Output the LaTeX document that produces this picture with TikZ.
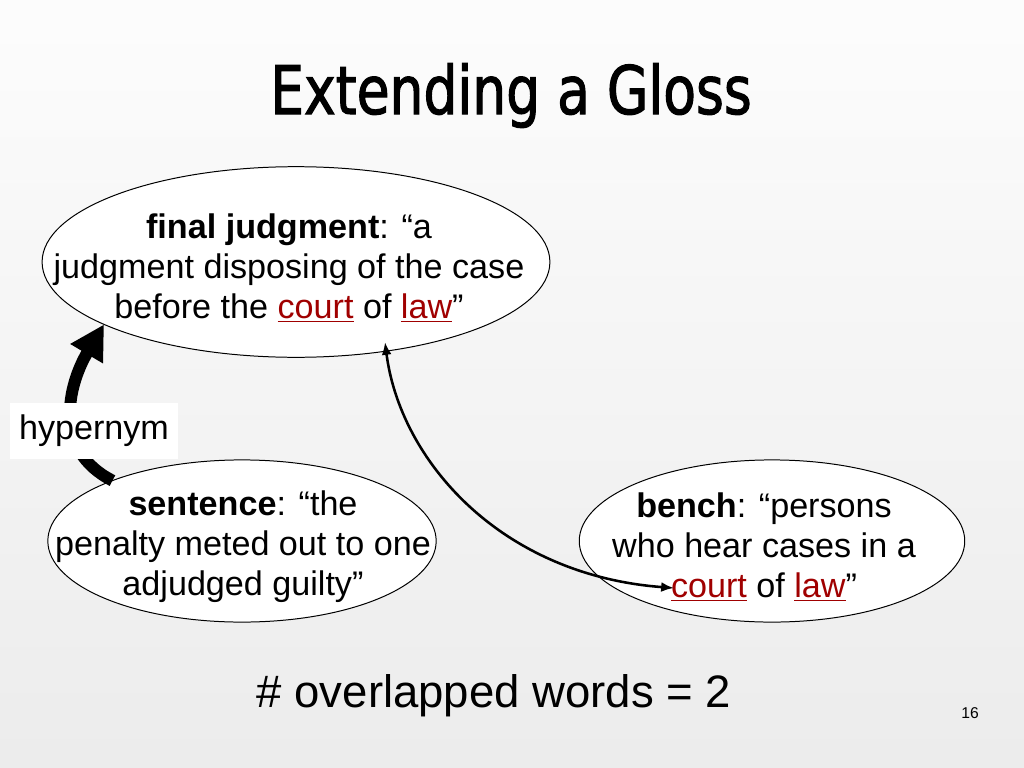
\documentclass[tikz,border=0pt]{standalone}
\usepackage{fontspec}
\setmainfont{Liberation Sans}
\newfontfamily\titlefont[FakeStretch=0.80,FakeBold=1.6]{DejaVu Sans}
\usetikzlibrary{shapes.geometric,arrows.meta}
\definecolor{lawred}{RGB}{160,0,0}
\newcommand{\linked}[1]{\textcolor{lawred}{\underline{#1}}}
\tikzset{
	gloss/.style={ellipse,draw=black,fill=white,line width=0.7pt,inner sep=0pt,outer sep=0pt},
	glosstext/.style={align=center,inner sep=0pt,font=\fontsize{24}{28.1}\selectfont},
	titletext/.style={anchor=base,font=\titlefont\fontsize{47}{56}\selectfont},
}
\begin{document}
\begin{tikzpicture}[x=0.703pt,y=-0.703pt]
	\shade[top color=gray!2,bottom color=gray!15] (0,0) rectangle (1024,768);
	\useasboundingbox (0,0) rectangle (1024,768);
	% title
	\node[titletext] (title) at (511,114) {Extending a Gloss};
	% the three glosses
	\node[gloss,minimum width=357pt,minimum height=134pt] (final) at (296,262) {};
	\node[gloss,minimum width=273pt,minimum height=114pt] (sentence) at (242,541) {};
	\node[gloss,minimum width=271pt,minimum height=114pt] (bench) at (772,541) {};
	\node[glosstext] (finaltext) at (289,268) {\textbf{final judgment}: “a\\judgment disposing of the case\\before the \linked{court} of \linked{law}”};
	\node[glosstext] (sentencetext) at (243,547) {\textbf{sentence}: “the\\penalty meted out to one\\adjudged guilty”};
	\node[glosstext] (benchtext) at (764,547) {\textbf{bench}: “persons\\who hear cases in a\\\linked{court} of \linked{law}”};
	% arrows
	\draw[line width=8.4pt,-{Triangle[length=24pt,width=25pt]}] (sentence.155) .. controls (52,450) and (68,385) .. (final.198);
	\coordinate (courtA) at (385,342);
	\coordinate (courtB) at (674,588);
	\draw[line width=1.8pt,{Latex[length=9pt,width=7pt]}-{Latex[length=9pt,width=7pt]}] (courtA) .. controls (400,460) and (500,575) .. (courtB);
	\node[fill=white,minimum width=118pt,minimum height=39pt,font=\fontsize{24}{28.1}\selectfont] (hyper) at (94,431) {hypernym};
	% footer
	\node[anchor=base,font=\fontsize{32}{38}\selectfont] (overlap) at (494,707) {\# overlapped words = 2};
	\node[font=\fontsize{11}{13}\selectfont] (page) at (970,713) {16};
\end{tikzpicture}
\end{document}
